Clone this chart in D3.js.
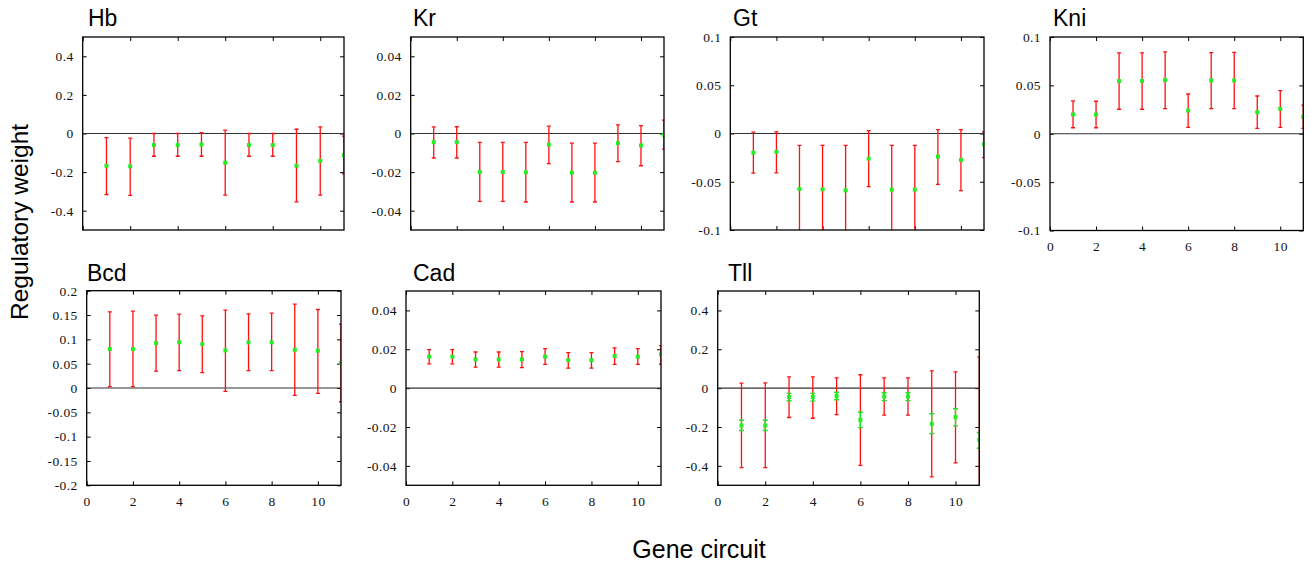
<!DOCTYPE html>
<html>
<head>
<meta charset="utf-8">
<script src="https://cdn.jsdelivr.net/npm/d3@7"></script>
<style>
  html, body { margin: 0; padding: 0; background: #fff; }
  svg { display: block; }
</style>
</head>
<body>
<svg id="chart" width="1316" height="565"></svg>
<script>
// ---------------- DATA ----------------
const circuits = [1, 2, 3, 4, 5, 6, 7, 8, 9, 10, 11];
const xTicks = [0, 2, 4, 6, 8, 10];

const hbValues = [-0.167, -0.170, -0.060, -0.060, -0.057, -0.151, -0.060, -0.060, -0.167, -0.142, -0.112];
const hbLower  = [-0.316, -0.321, -0.118, -0.118, -0.118, -0.319, -0.118, -0.118, -0.354, -0.319, -0.209];
const hbUpper  = [-0.021, -0.024,  0.000,  0.000,  0.005,  0.017,  0.000,  0.000,  0.022,  0.034, -0.014];
const hbTicks  = [0.4, 0.2, 0, -0.2, -0.4];

const krValues = [-0.0045, -0.0045, -0.0199, -0.0199, -0.0201, -0.0058, -0.0203, -0.0203, -0.0050, -0.0062, -0.0007];
const krLower  = [-0.0127, -0.0127, -0.0352, -0.0352, -0.0355, -0.0156, -0.0355, -0.0355, -0.0146, -0.0167, -0.0081];
const krUpper  = [ 0.0034,  0.0035, -0.0046, -0.0046, -0.0046,  0.0038, -0.0050, -0.0050,  0.0045,  0.0041,  0.0069];
const krTicks  = [0.04, 0.02, 0, -0.02, -0.04];

const gtValues = [-0.0199, -0.0190, -0.0575, -0.0579, -0.0589, -0.0260, -0.0582, -0.0582, -0.0240, -0.0274, -0.0113];
const gtLower  = [-0.0410, -0.0408, -0.1027, -0.1035, -0.1055, -0.0551, -0.1041, -0.1041, -0.0527, -0.0592, -0.0250];
const gtUpper  = [ 0.0014,  0.0017, -0.0123, -0.0123, -0.0123,  0.0030, -0.0123, -0.0123,  0.0041,  0.0041,  0.0017];
const gtTicks  = [0.1, 0.05, 0, -0.05, -0.1];

const kniValues = [0.0199, 0.0199, 0.0545, 0.0545, 0.0555, 0.0240, 0.0551, 0.0551, 0.0223, 0.0257, 0.0175];
const kniLower  = [0.0062, 0.0062, 0.0253, 0.0253, 0.0260, 0.0065, 0.0260, 0.0260, 0.0055, 0.0065, 0.0055];
const kniUpper  = [0.0339, 0.0336, 0.0836, 0.0836, 0.0846, 0.0411, 0.0839, 0.0842, 0.0390, 0.0445, 0.0295];
const kniTicks  = [0.1, 0.05, 0, -0.05, -0.1];

const bcdValues = [0.0800, 0.0800, 0.0924, 0.0938, 0.0903, 0.0772, 0.0938, 0.0938, 0.0786, 0.0766, 0.0510];
const bcdLower  = [0.0028, 0.0028, 0.0345, 0.0359, 0.0317, -0.0069, 0.0359, 0.0359, -0.0152, -0.0110, -0.0283];
const bcdUpper  = [0.1566, 0.1580, 0.1497, 0.1517, 0.1483, 0.1600, 0.1524, 0.1538, 0.1724, 0.1614, 0.1310];
const bcdTicks  = [0.2, 0.15, 0.1, 0.05, 0, -0.05, -0.1, -0.15, -0.2];

const cadValues = [0.0162, 0.0162, 0.0148, 0.0148, 0.0148, 0.0162, 0.0144, 0.0144, 0.0165, 0.0162, 0.0174];
const cadLower  = [0.0125, 0.0125, 0.0108, 0.0108, 0.0106, 0.0122, 0.0103, 0.0103, 0.0122, 0.0122, 0.0123];
const cadUpper  = [0.0198, 0.0198, 0.0186, 0.0186, 0.0188, 0.0203, 0.0183, 0.0183, 0.0207, 0.0203, 0.0219];
const cadTicks  = [0.04, 0.02, 0, -0.02, -0.04];

const tllValues    = [-0.192, -0.192, -0.046, -0.046, -0.040, -0.163, -0.043, -0.043, -0.184, -0.149, -0.266];
const tllLower     = [-0.409, -0.409, -0.151, -0.155, -0.136, -0.397, -0.139, -0.139, -0.457, -0.385, -0.700];
const tllUpper     = [ 0.026,  0.027,  0.058,  0.058,  0.053,  0.069,  0.053,  0.053,  0.089,  0.084,  0.161];
const tllInnerLow  = [-0.218, -0.218, -0.065, -0.067, -0.060, -0.203, -0.064, -0.064, -0.234, -0.194, -0.309];
const tllInnerHigh = [-0.165, -0.165, -0.027, -0.027, -0.021, -0.124, -0.024, -0.024, -0.132, -0.106, -0.228];
const tllTicks     = [0.4, 0.2, 0, -0.2, -0.4];

const panelNames = ["Hb", "Kr", "Gt", "Kni", "Bcd", "Cad", "Tll"];

// ---------------- LAYOUT ----------------
const panels = [
  { name: "Hb",  v: hbValues,  lo: hbLower,  hi: hbUpper,  ticks: hbTicks,  dom: [-0.5, 0.5],   L: 82.7,  R: 344,   T: 37,    B: 230,   tx: 88,   ty: 26,  xlab: false },
  { name: "Kr",  v: krValues,  lo: krLower,  hi: krUpper,  ticks: krTicks,  dom: [-0.05, 0.05], L: 410.7, R: 664,   T: 37,    B: 230,   tx: 413,  ty: 26,  xlab: false },
  { name: "Gt",  v: gtValues,  lo: gtLower,  hi: gtUpper,  ticks: gtTicks,  dom: [-0.1, 0.1],   L: 730.3, R: 984,   T: 37,    B: 230,   tx: 733,  ty: 26,  xlab: false },
  { name: "Kni", v: kniValues, lo: kniLower, hi: kniUpper, ticks: kniTicks, dom: [-0.1, 0.1],   L: 1050,  R: 1303.3,T: 37,    B: 230.5, tx: 1053, ty: 26,  xlab: true },
  { name: "Bcd", v: bcdValues, lo: bcdLower, hi: bcdUpper, ticks: bcdTicks, dom: [-0.2, 0.2],   L: 86.7,  R: 341,   T: 290.7, B: 485.3, tx: 87,   ty: 281, xlab: true },
  { name: "Cad", v: cadValues, lo: cadLower, hi: cadUpper, ticks: cadTicks, dom: [-0.05, 0.05], L: 406,   R: 661,   T: 291,   B: 485.3, tx: 413,  ty: 281, xlab: true },
  { name: "Tll", v: tllValues, lo: tllLower, hi: tllUpper, ticks: tllTicks, dom: [-0.5, 0.5],   L: 717.7, R: 979.3, T: 291,   B: 485.3, tx: 728,  ty: 281, xlab: true,
    ilo: tllInnerLow, ihi: tllInnerHigh }
];

const svg = d3.select("#chart");
const serif = "'Liberation Serif', 'Times New Roman', serif";
const sans = "'Liberation Sans', Arial, sans-serif";
const fmt = d => String(d);

panels.forEach((p, pi) => {
  const x = d3.scaleLinear().domain([0, 11]).range([p.L, p.R]);
  const y = d3.scaleLinear().domain(p.dom).range([p.B, p.T]);
  const g = svg.append("g");

  const clipId = "clip" + pi;
  svg.append("clipPath").attr("id", clipId)
    .append("rect").attr("x", p.L).attr("y", p.T).attr("width", p.R - p.L).attr("height", p.B - p.T);

  // axes with inward ticks
  const left = g.append("g").attr("transform", `translate(${p.L},0)`)
    .call(d3.axisLeft(y).tickValues(p.ticks).tickSize(-4).tickPadding(9).tickFormat(fmt));
  const right = g.append("g").attr("transform", `translate(${p.R},0)`)
    .call(d3.axisRight(y).tickValues(p.ticks).tickSize(-4).tickFormat(""));
  const bottom = g.append("g").attr("transform", `translate(0,${p.B})`)
    .call(d3.axisBottom(x).tickValues(xTicks).tickSize(-4).tickPadding(11).tickFormat(p.xlab ? fmt : ""));
  const top = g.append("g").attr("transform", `translate(0,${p.T})`)
    .call(d3.axisTop(x).tickValues(xTicks).tickSize(-4).tickFormat(""));
  [left, right, bottom, top].forEach(a => {
    a.attr("font-family", serif).attr("font-size", 13.5);
    a.select(".domain").remove();
    a.selectAll("line").attr("stroke", "#000").attr("stroke-width", 1);
    a.selectAll("text").attr("font-family", serif).attr("font-size", 13.5)
      .attr("letter-spacing", 0.4).attr("fill", "#111");
  });
  bottom.selectAll("text").attr("dy", "0.71em");

  const plot = g.append("g").attr("clip-path", `url(#${clipId})`);

  // zero line
  plot.append("line")
    .attr("x1", p.L).attr("x2", p.R).attr("y1", y(0)).attr("y2", y(0))
    .attr("stroke", "#333").attr("stroke-width", 1.2);

  const capW = 2;
  // red error bars
  const eb = plot.selectAll(".eb").data(circuits).enter().append("g");
  eb.append("line")
    .attr("x1", d => x(d)).attr("x2", d => x(d))
    .attr("y1", (d, i) => y(p.lo[i])).attr("y2", (d, i) => y(p.hi[i]))
    .attr("stroke", "#ff1010").attr("stroke-width", 1.3);
  eb.append("line")
    .attr("x1", d => x(d) - capW).attr("x2", d => x(d) + capW)
    .attr("y1", (d, i) => y(p.lo[i])).attr("y2", (d, i) => y(p.lo[i]))
    .attr("stroke", "#ff1010").attr("stroke-width", 1.3);
  eb.append("line")
    .attr("x1", d => x(d) - capW).attr("x2", d => x(d) + capW)
    .attr("y1", (d, i) => y(p.hi[i])).attr("y2", (d, i) => y(p.hi[i]))
    .attr("stroke", "#ff1010").attr("stroke-width", 1.3);

  // green inner error bars (Tll)
  if (p.ilo) {
    const gb = plot.selectAll(".gb").data(circuits).enter().append("g");
    gb.append("line")
      .attr("x1", d => x(d)).attr("x2", d => x(d))
      .attr("y1", (d, i) => y(p.ilo[i])).attr("y2", (d, i) => y(p.ihi[i]))
      .attr("stroke", "#22e022").attr("stroke-width", 1.4);
    gb.append("line")
      .attr("x1", d => x(d) - 2.5).attr("x2", d => x(d) + 2.5)
      .attr("y1", (d, i) => y(p.ilo[i])).attr("y2", (d, i) => y(p.ilo[i]))
      .attr("stroke", "#22e022").attr("stroke-width", 1.4);
    gb.append("line")
      .attr("x1", d => x(d) - 2.5).attr("x2", d => x(d) + 2.5)
      .attr("y1", (d, i) => y(p.ihi[i])).attr("y2", (d, i) => y(p.ihi[i]))
      .attr("stroke", "#22e022").attr("stroke-width", 1.4);
  }

  // green points
  plot.selectAll(".pt").data(circuits).enter().append("rect")
    .attr("x", d => x(d) - 2).attr("y", (d, i) => y(p.v[i]) - 2)
    .attr("width", 4).attr("height", 4)
    .attr("fill", "#22ee22");

  // frame
  g.append("rect")
    .attr("x", p.L).attr("y", p.T).attr("width", p.R - p.L).attr("height", p.B - p.T)
    .attr("fill", "none").attr("stroke", "#000").attr("stroke-width", 1.3);

  // title
  g.append("text").attr("x", p.tx).attr("y", p.ty)
    .attr("font-family", sans).attr("font-size", 23).attr("fill", "#000")
    .text(panelNames[pi]);
});

// axis titles
svg.append("text")
  .attr("transform", "translate(28,222) rotate(-90)")
  .attr("text-anchor", "middle")
  .attr("font-family", sans).attr("font-size", 24.5).attr("fill", "#000")
  .text("Regulatory weight");

svg.append("text")
  .attr("x", 699).attr("y", 558)
  .attr("text-anchor", "middle")
  .attr("font-family", sans).attr("font-size", 25).attr("fill", "#000")
  .text("Gene circuit");
</script>
</body>
</html>
